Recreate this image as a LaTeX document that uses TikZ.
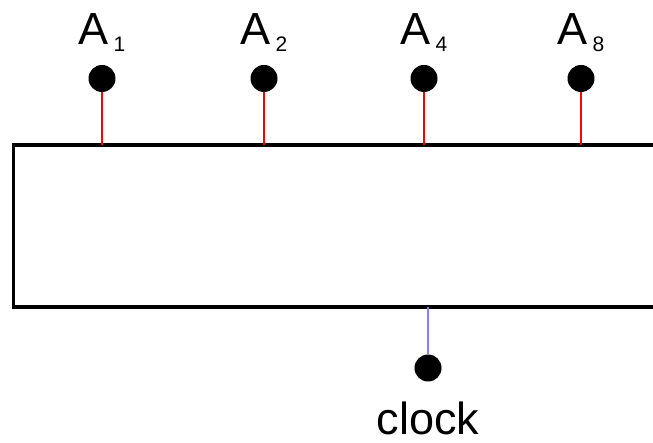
\documentclass[tikz,border=0pt]{standalone}
\usepackage{fontspec}
\setmainfont{Liberation Sans}
\usetikzlibrary{positioning}

\newcommand{\addrname}[1]{A\kern5pt\raisebox{-7pt}{\fontsize{21}{21}\selectfont #1}}

\begin{document}
\begin{tikzpicture}[x=1pt, y=-1pt,
                    pinnode/.style={circle, fill=black, inner sep=0pt, minimum size=27pt},
                    namenode/.style={inner sep=0pt, font=\fontsize{45}{50}\selectfont},
                    boxnode/.style={draw=black, line width=3.5pt, minimum width=690pt, minimum height=162pt, inner sep=0pt, outer sep=0pt},
                    addrwire/.style={red, line width=2.5pt},
                    clkwire/.style={blue!50, line width=2.5pt},
                ]
                    \useasboundingbox (0,0) rectangle (653,443);

                    %Nodes
                    \node[boxnode, anchor=north west](box) at (13.5,145) {};
                    \node[pinnode](a1) at (102,78.5) {};
                    \node[pinnode](a2) at (264,78.5) {};
                    \node[pinnode](a4) at (424,78.5) {};
                    \node[pinnode](a8) at (581,78.5) {};
                    \node[pinnode](clk) at (428,368) {};
                    \node[namenode](n1)[above=13pt of a1] {\addrname{1}};
                    \node[namenode](n2)[above=13pt of a2] {\addrname{2}};
                    \node[namenode](n4)[above=13pt of a4] {\addrname{4}};
                    \node[namenode](n8)[above=13pt of a8] {\addrname{8}};
                    \node[namenode](nclk)[below=20pt of clk] {clock};

                    %Lines
                    \draw[addrwire](a1) -- (a1 |- box.north);
                    \draw[addrwire](a2) -- (a2 |- box.north);
                    \draw[addrwire](a4) -- (a4 |- box.north);
                    \draw[addrwire](a8) -- (a8 |- box.north);
                    \draw[clkwire](clk) -- (clk |- box.south);
                \end{tikzpicture}
\end{document}
